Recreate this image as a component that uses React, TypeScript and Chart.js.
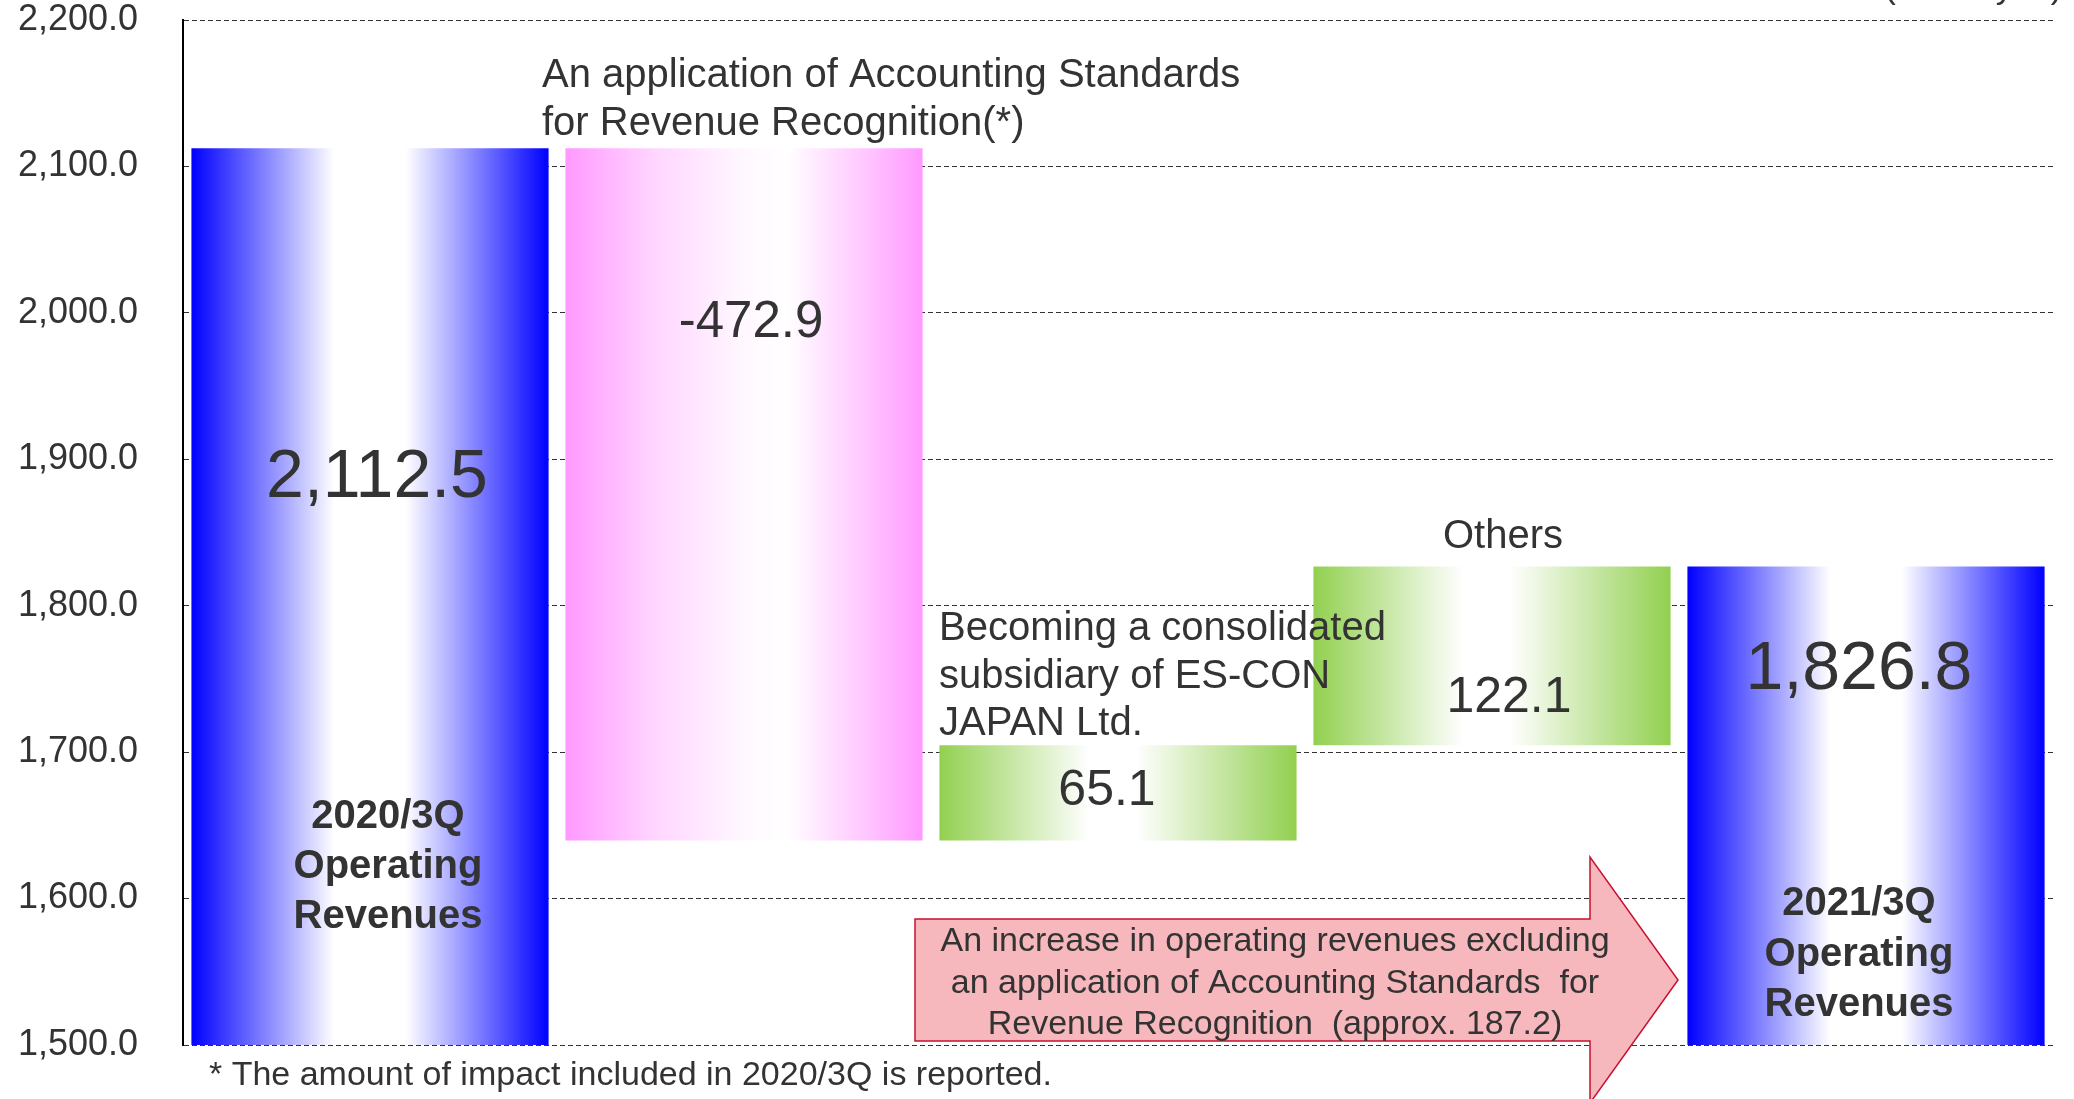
import React, { useEffect, useRef } from "react";
import { Chart, registerables } from "chart.js";

Chart.register(...registerables);

const categories = ["2020/3Q", "Accounting Standards", "ES-CON JAPAN", "Others", "2021/3Q"];
const barStarts = [1500, 1639.6, 1639.6, 1704.7, 1500];
const barEnds = [2112.5, 2112.5, 1704.7, 1826.8, 1826.8];
const valueLabels = ["2,112.5", "-472.9", "65.1", "122.1", "1,826.8"];
const barKinds = ["blue", "pink", "green", "green", "blue"];
const yMin = 1500;
const yMax = 2200;
const yStep = 100;

const FONT = "'Liberation Sans', Arial, Helvetica, sans-serif";
const TEXT = "#333333";

const gradientStops: Record<string, [number, string][]> = {
  blue: [[0, "#0000ff"], [0.4, "#ffffff"], [0.6, "#ffffff"], [1, "#0000ff"]],
  pink: [[0, "#ff99ff"], [0.25, "#ffd6ff"], [0.5, "#fff8ff"], [0.62, "#ffffff"], [0.85, "#ffc4ff"], [1, "#ff99ff"]],
  green: [[0, "#92d050"], [0.42, "#ffffff"], [0.55, "#ffffff"], [1, "#92d050"]],
};
const solid: Record<string, string> = { blue: "#0000ff", pink: "#ff99ff", green: "#92d050" };

const BAR_PCT = 0.955;

const textPlugin = {
  id: "annotationsText",
  afterDatasetsDraw(chart: any) {
    const ctx = chart.ctx as CanvasRenderingContext2D;
    ctx.save();

    // Arrow
    ctx.beginPath();
    ctx.moveTo(915, 919);
    ctx.lineTo(1590, 919);
    ctx.lineTo(1590, 857);
    ctx.lineTo(1678, 980);
    ctx.lineTo(1590, 1103);
    ctx.lineTo(1590, 1041);
    ctx.lineTo(915, 1041);
    ctx.closePath();
    ctx.fillStyle = "#f6b8bd";
    ctx.fill();
    ctx.lineWidth = 1.5;
    ctx.strokeStyle = "#c8102e";
    ctx.stroke();

    const txt = (s: string, x: number, y: number, size: number, align: CanvasTextAlign = "center", bold = false) => {
      ctx.font = `${bold ? "bold " : ""}${size}px ${FONT}`;
      ctx.textAlign = align;
      ctx.textBaseline = "alphabetic";
      ctx.fillStyle = TEXT;
      ctx.fillText(s, x, y);
    };

    const xs = chart.scales.x;
    const cx = (i: number) => xs.getPixelForValue(i);

    // value labels
    txt(valueLabels[0], cx(0) + 7, 497, 68);
    txt(valueLabels[1], cx(1) + 7, 337, 51);
    txt(valueLabels[2], cx(2) - 11, 805, 50);
    txt(valueLabels[3], cx(3) + 17, 712, 50);
    txt(valueLabels[4], cx(4) - 7, 689, 68);

    // bar titles
    txt("2020/3Q", cx(0) + 18, 828, 40, "center", true);
    txt("Operating", cx(0) + 18, 878, 40, "center", true);
    txt("Revenues", cx(0) + 18, 928, 40, "center", true);
    txt("2021/3Q", cx(4) - 7, 915, 40, "center", true);
    txt("Operating", cx(4) - 7, 966, 40, "center", true);
    txt("Revenues", cx(4) - 7, 1016, 40, "center", true);

    // annotations
    txt("An application of Accounting Standards", 542, 87, 40, "left");
    txt("for Revenue Recognition(*)", 542, 135, 40, "left");
    txt("Becoming a consolidated", 939, 640, 40, "left");
    txt("subsidiary of ES-CON", 939, 688, 40, "left");
    txt("JAPAN Ltd.", 939, 735, 40, "left");
    txt("Others", cx(3) + 11, 548, 40);

    // arrow text
    txt("An increase in operating revenues excluding", 1275, 951, 34);
    txt("an application of Accounting Standards  for", 1275, 993, 34);
    txt("Revenue Recognition  (approx. 187.2)", 1275, 1034, 34);

    // footnote & unit
    txt("* The amount of impact included in 2020/3Q is reported.", 209, 1085, 34, "left");
    txt("(Billion yen)", 2062, -2, 34, "right");

    ctx.restore();
  },
};

export default function App() {
  const ref = useRef<HTMLCanvasElement | null>(null);

  useEffect(() => {
    if (!ref.current) return;
    const chart = new Chart(ref.current, {
      type: "bar",
      data: {
        labels: categories,
        datasets: [
          {
            data: barStarts.map((s, i) => [s, barEnds[i]]) as any,
            backgroundColor: (c: any) => {
              const kind = barKinds[c.dataIndex] || "blue";
              const ch = c.chart;
              const area = ch.chartArea;
              const xs = ch.scales?.x;
              if (!area || !xs || c.type !== "data") return solid[kind];
              const center = xs.getPixelForValue(c.dataIndex);
              const w = (xs.width / categories.length) * BAR_PCT;
              const g = ch.ctx.createLinearGradient(center - w / 2, 0, center + w / 2, 0);
              gradientStops[kind].forEach(([p, col]) => g.addColorStop(p, col));
              return g;
            },
            borderWidth: 0,
            categoryPercentage: 1,
            barPercentage: BAR_PCT,
          },
        ],
      },
      options: {
        animation: false,
        responsive: true,
        maintainAspectRatio: false,
        devicePixelRatio: 1,
        layout: { padding: { top: 20, bottom: 54, left: 0, right: 21 } },
        plugins: { legend: { display: false }, tooltip: { enabled: false } },
        scales: {
          x: { display: false },
          y: {
            min: yMin,
            max: yMax,
            afterFit: (scale: any) => {
              scale.width = 183;
              scale.paddingTop = 0;
              scale.paddingBottom = 0;
            },
            ticks: {
              stepSize: yStep,
              padding: 45,
              color: TEXT,
              font: { family: FONT, size: 36, lineHeight: 1 },
              callback: (v: any) =>
                Number(v).toLocaleString("en-US", { minimumFractionDigits: 1, maximumFractionDigits: 1 }),
            },
            grid: { color: "#333333", lineWidth: 1, drawTicks: false },
            border: { display: true, color: "#000000", width: 2, dash: [5, 3] },
          },
        },
      },
      plugins: [textPlugin],
    });
    return () => chart.destroy();
  }, []);

  return (
    <div style={{ position: "fixed", left: 0, top: 0, width: 2074, height: 1099, background: "#ffffff" }}>
      <canvas ref={ref} />
    </div>
  );
}
